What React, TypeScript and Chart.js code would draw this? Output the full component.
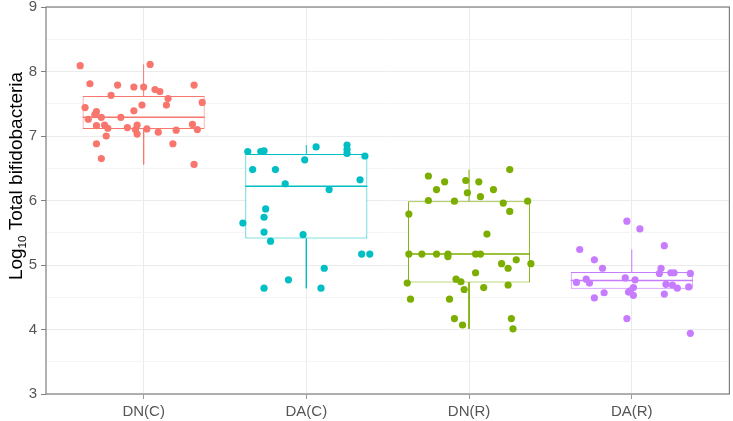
import React, { useEffect, useRef } from 'react';
import { Chart, registerables } from 'chart.js';
Chart.register(...registerables);

const categories = ['DN(C)', 'DA(C)', 'DN(R)', 'DA(R)'];
const colors = ['#F8766D', '#00BFC4', '#7CAE00', '#C77CFF'];
const yMin = 3;
const yMax = 9;

const dnCValues = [8.09, 8.11, 7.81, 7.79, 7.76, 7.76, 7.72, 7.69, 7.79, 7.63, 7.58, 7.52, 7.44, 7.48, 7.48, 7.39, 7.38, 7.33, 7.26, 7.29, 7.29, 7.16, 7.17, 7.12, 7.13, 7.17, 7.10, 7.11, 7.18, 7.10, 7.09, 7.06, 7.03, 7.00, 6.88, 6.88, 6.65, 6.56];
const dnCJitter = [-0.39, 0.04, -0.33, -0.16, -0.06, 0.0, 0.07, 0.1, 0.31, -0.2, 0.15, 0.36, -0.36, -0.01, 0.14, -0.06, -0.29, -0.3, -0.34, -0.26, -0.14, -0.29, -0.24, -0.22, -0.1, -0.04, -0.05, 0.02, 0.3, 0.33, 0.2, 0.09, -0.04, -0.23, -0.29, 0.18, -0.26, 0.31];

const daCValues = [6.76, 6.76, 6.77, 6.83, 6.86, 6.79, 6.73, 6.69, 6.63, 6.48, 6.48, 6.32, 6.26, 6.17, 5.87, 5.74, 5.65, 5.51, 5.47, 5.37, 5.17, 5.17, 4.95, 4.77, 4.64, 4.64];
const daCJitter = [-0.36, -0.28, -0.26, 0.06, 0.25, 0.25, 0.25, 0.36, -0.01, -0.33, -0.19, 0.33, -0.13, 0.14, -0.25, -0.26, -0.39, -0.26, -0.02, -0.22, 0.34, 0.39, 0.11, -0.11, -0.26, 0.09];

const dnRValues = [6.48, 6.38, 6.29, 6.31, 6.29, 6.17, 6.12, 6.17, 6.06, 6.00, 5.99, 5.96, 5.99, 5.83, 5.79, 5.48, 5.17, 5.17, 5.17, 5.17, 5.13, 5.17, 5.17, 5.08, 5.02, 4.95, 5.02, 4.88, 4.78, 4.74, 4.72, 4.62, 4.65, 4.69, 4.47, 4.47, 4.17, 4.17, 4.07, 4.01];
const dnRJitter = [0.25, -0.25, -0.15, -0.02, 0.06, -0.2, -0.01, 0.15, 0.07, -0.25, -0.09, 0.21, 0.36, 0.25, -0.37, 0.11, -0.37, -0.29, -0.2, -0.13, -0.13, 0.04, 0.07, 0.29, 0.2, 0.24, 0.38, 0.04, -0.08, -0.05, -0.38, -0.03, 0.09, 0.24, -0.36, -0.12, -0.09, 0.26, -0.04, 0.27];

const daRValues = [5.68, 5.56, 5.30, 5.24, 5.08, 4.95, 4.95, 4.87, 4.88, 4.88, 4.87, 4.80, 4.77, 4.78, 4.73, 4.72, 4.70, 4.69, 4.64, 4.66, 4.65, 4.60, 4.58, 4.53, 4.57, 4.49, 4.55, 4.17, 3.94];
const daRJitter = [-0.03, 0.05, 0.2, -0.32, -0.23, -0.18, 0.18, 0.17, 0.24, 0.26, 0.36, -0.04, 0.02, -0.28, -0.34, -0.26, 0.21, 0.25, 0.28, 0.35, 0.01, -0.01, -0.02, 0.01, -0.17, -0.23, 0.2, -0.03, 0.36];

const boxMin = [6.56, 4.64, 4.01, 4.49];
const boxQ1 = [7.11, 5.41, 4.73, 4.63];
const boxMedian = [7.29, 6.22, 5.17, 4.76];
const boxQ3 = [7.62, 6.72, 5.99, 4.89];
const boxMax = [8.11, 6.86, 6.48, 5.24];

const groupValues = [dnCValues, daCValues, dnRValues, daRValues];
const groupJitter = [dnCJitter, daCJitter, dnRJitter, daRJitter];

const BOX_HALF = 0.375;

const framePlugin = {
  id: 'frameAndTitle',
  beforeDatasetsDraw(chart: any) {
    const { ctx, chartArea: a } = chart;
    ctx.save();
    ctx.strokeStyle = '#7F7F7F';
    ctx.lineWidth = 1.2;
    ctx.strokeRect(a.left, a.top, a.right - a.left, a.bottom - a.top);
    ctx.restore();
  },
  afterDraw(chart: any) {
    const { ctx } = chart;
    ctx.save();
    const big = '19px "Liberation Sans", Arial, sans-serif';
    const small = '11.5px "Liberation Sans", Arial, sans-serif';
    const p1 = 'Log';
    const p2 = '10';
    const p3 = ' Total bifidobacteria';
    ctx.font = big;
    const w1 = ctx.measureText(p1).width;
    const w3 = ctx.measureText(p3).width;
    ctx.font = small;
    const w2 = ctx.measureText(p2).width;
    const total = w1 + w2 + w3;
    ctx.translate(0, 176);
    ctx.rotate(-Math.PI / 2);
    ctx.fillStyle = '#000';
    ctx.textBaseline = 'alphabetic';
    ctx.textAlign = 'left';
    let x = -total / 2;
    const base = 21.5;
    ctx.font = big;
    ctx.fillText(p1, x, base);
    x += w1;
    ctx.font = small;
    ctx.fillText(p2, x, base + 4);
    x += w2;
    ctx.font = big;
    ctx.fillText(p3, x, base);
    ctx.restore();
  },
};

export default function App() {
  const ref = useRef<HTMLCanvasElement | null>(null);

  useEffect(() => {
    if (!ref.current) return;
    const datasets: any[] = [];

    groupValues.forEach((vals, i) => {
      datasets.push({
        type: 'scatter',
        data: vals.map((v, k) => ({ x: i + 1 + groupJitter[i][k], y: v })),
        backgroundColor: colors[i],
        borderWidth: 0,
        pointRadius: 3.6,
        pointHoverRadius: 3.6,
        order: 0,
      });
    });

    categories.forEach((_, i) => {
      const c = i + 1;
      datasets.push({
        type: 'line',
        data: [{ x: c - BOX_HALF, y: boxMedian[i] }, { x: c + BOX_HALF, y: boxMedian[i] }],
        borderColor: colors[i],
        borderWidth: 1.6,
        pointRadius: 0,
        fill: false,
        order: 1,
      });
      datasets.push({
        type: 'line',
        data: [{ x: c, y: boxQ3[i] }, { x: c, y: boxMax[i] }],
        borderColor: colors[i],
        borderWidth: 1,
        pointRadius: 0,
        fill: false,
        order: 1,
      });
      datasets.push({
        type: 'line',
        data: [{ x: c, y: boxQ1[i] }, { x: c, y: boxMin[i] }],
        borderColor: colors[i],
        borderWidth: 1,
        pointRadius: 0,
        fill: false,
        order: 1,
      });
    });

    datasets.push({
      type: 'bar',
      data: categories.map((_, i) => ({ x: i + 1, y: [boxQ1[i], boxQ3[i]] })),
      backgroundColor: '#FFFFFF',
      borderColor: colors,
      borderWidth: 1,
      borderSkipped: false,
      barPercentage: 0.75,
      categoryPercentage: 1,
      order: 2,
    });

    const chart = new Chart(ref.current, {
      type: 'scatter',
      data: { datasets },
      options: {
        animation: false,
        responsive: true,
        maintainAspectRatio: false,
        events: [],
        layout: { padding: { top: 7, right: 2, left: 0, bottom: 0 } },
        plugins: { legend: { display: false }, tooltip: { enabled: false } },
        scales: {
          x: {
            type: 'linear',
            min: 0.4,
            max: 4.6,
            offset: false,
            afterBuildTicks: (scale: any) => {
              scale.ticks = categories.map((_, i) => ({ value: i + 1 }));
            },
            afterFit: (scale: any) => {
              scale.height = 27;
              scale.paddingLeft = 0;
              scale.paddingRight = 0;
            },
            ticks: {
              autoSkip: false,
              maxRotation: 0,
              padding: 4,
              color: '#555555',
              font: { family: '"Liberation Sans", Arial, sans-serif', size: 15 },
              callback: (v: any) => categories[Math.round(Number(v)) - 1] ?? '',
            },
            grid: {
              offset: false,
              color: '#EBEBEB',
              lineWidth: 1,
              tickColor: '#9A9A9A',
              tickLength: 5,
              drawTicks: true,
            },
            border: { display: false },
          },
          y: {
            type: 'linear',
            min: yMin,
            max: yMax,
            afterFit: (scale: any) => {
              scale.width = 46;
              scale.paddingTop = 0;
              scale.paddingBottom = 0;
            },
            ticks: {
              stepSize: 0.5,
              autoSkip: false,
              padding: 4,
              color: '#555555',
              font: { family: '"Liberation Sans", Arial, sans-serif', size: 15 },
              callback: (v: any) => (Number.isInteger(Number(v)) ? String(v) : ''),
            },
            grid: {
              color: (ctx: any) => (Number.isInteger(ctx.tick?.value) ? '#EBEBEB' : '#F4F4F4'),
              lineWidth: 1,
              tickColor: (ctx: any) => (Number.isInteger(ctx.tick?.value) ? '#7F7F7F' : 'rgba(0,0,0,0)'),
              tickLength: 5,
              drawTicks: true,
            },
            border: { display: false },
          },
        },
      },
      plugins: [framePlugin],
    } as any);

    return () => chart.destroy();
  }, []);

  return (
    <div style={{ position: 'absolute', left: 0, top: 0, width: 733, height: 421 }}>
      <canvas ref={ref} />
    </div>
  );
}
